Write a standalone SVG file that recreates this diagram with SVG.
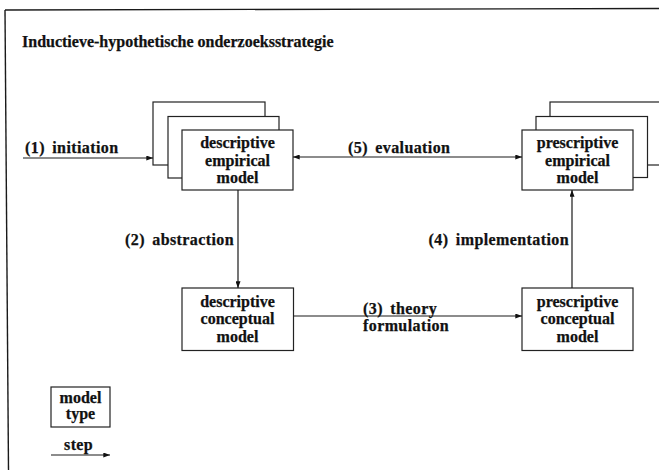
<svg xmlns="http://www.w3.org/2000/svg" width="659" height="470" viewBox="0 0 659 470">
  <defs>
    <style>
      .frame { stroke: #1a1a1a; stroke-width: 1.4; fill: none; }
      .box { fill: #ffffff; stroke: #222222; stroke-width: 1.2; }
      .txt { font-family: "Liberation Serif", "DejaVu Serif", "Times New Roman", serif; font-weight: bold; font-size: 16px; fill: #111111; stroke: #111111; stroke-width: 0.25px; }
      .mid { text-anchor: middle; }
      .end { text-anchor: end; }
      .lbl { letter-spacing: 0.4px; word-spacing: 3px; }
      .title { font-size: 16px; }
      .conn { stroke: #1a1a1a; stroke-width: 1.2; fill: none; }
    </style>
    <marker id="arrow" viewBox="0 0 8 6" refX="8" refY="3" markerWidth="7" markerHeight="5" markerUnits="userSpaceOnUse" orient="auto-start-reverse">
      <path d="M0,0 L8,3 L0,6 z" fill="#111111"/>
    </marker>
  </defs>

  <rect x="0" y="0" width="659" height="470" fill="#ffffff"/>

  <!-- page frame: top rule and left rule -->
  <g id="frame">
    <line class="frame" x1="5" y1="10" x2="659" y2="8.5"/>
    <line class="frame" x1="5" y1="10" x2="8.5" y2="470"/>
  </g>

  <text id="title" class="txt title" x="22" y="47">Inductieve-hypothetische onderzoeksstrategie</text>

  <!-- descriptive empirical model (stacked) -->
  <g id="descriptive-empirical">
    <rect class="box" x="153" y="102" width="112" height="63"/>
    <rect class="box" x="168" y="116.5" width="111" height="61.5"/>
    <rect class="box" x="182" y="130" width="111" height="60"/>
    <text class="txt mid" x="237.5" y="148">descriptive</text>
    <text class="txt mid" x="237.5" y="165.5">empirical</text>
    <text class="txt mid" x="237.5" y="183">model</text>
  </g>

  <!-- prescriptive empirical model (stacked) -->
  <g id="prescriptive-empirical">
    <rect class="box" x="550" y="102" width="112" height="63"/>
    <rect class="box" x="536" y="116.5" width="111.5" height="61"/>
    <rect class="box" x="522" y="130" width="111" height="60"/>
    <text class="txt mid" x="577.5" y="148">prescriptive</text>
    <text class="txt mid" x="577.5" y="165.5">empirical</text>
    <text class="txt mid" x="577.5" y="183">model</text>
  </g>

  <!-- descriptive conceptual model -->
  <g id="descriptive-conceptual">
    <rect class="box" x="182" y="288" width="111.5" height="62.5"/>
    <text class="txt mid" x="237.5" y="306.5">descriptive</text>
    <text class="txt mid" x="237.5" y="324">conceptual</text>
    <text class="txt mid" x="237.5" y="341.5">model</text>
  </g>

  <!-- prescriptive conceptual model -->
  <g id="prescriptive-conceptual">
    <rect class="box" x="522" y="288" width="111" height="62.5"/>
    <text class="txt mid" x="577.5" y="306.5">prescriptive</text>
    <text class="txt mid" x="577.5" y="324">conceptual</text>
    <text class="txt mid" x="577.5" y="341.5">model</text>
  </g>

  <!-- legend -->
  <g id="legend-model-type">
    <rect class="box" x="51" y="387" width="59" height="40"/>
    <text class="txt mid" x="80.5" y="403">model</text>
    <text class="txt mid" x="80.5" y="419">type</text>
  </g>

  <!-- steps between model types -->
  <g id="connectors">
    <line class="conn" x1="23" y1="158" x2="153" y2="158" marker-end="url(#arrow)"/>
    <line class="conn" x1="293" y1="157" x2="522" y2="157" marker-start="url(#arrow)" marker-end="url(#arrow)"/>
    <line class="conn" x1="238" y1="190" x2="238" y2="288" marker-end="url(#arrow)"/>
    <line class="conn" x1="293.5" y1="316" x2="522" y2="316" marker-end="url(#arrow)"/>
    <line class="conn" x1="572" y1="288" x2="572" y2="190" marker-end="url(#arrow)"/>
    <line class="conn" x1="51" y1="455" x2="110" y2="455" marker-end="url(#arrow)"/>
  </g>

  <g id="step-labels">
    <text class="txt lbl" x="25" y="153">(1) initiation</text>
    <text class="txt lbl end" x="234" y="245">(2) abstraction</text>
    <text class="txt lbl" x="363" y="313.5">(3) theory</text>
    <text class="txt lbl" x="363" y="331">formulation</text>
    <text class="txt lbl end" x="569" y="245">(4) implementation</text>
    <text class="txt lbl" x="348" y="153">(5) evaluation</text>
    <text class="txt lbl" x="64" y="450">step</text>
  </g>
</svg>
